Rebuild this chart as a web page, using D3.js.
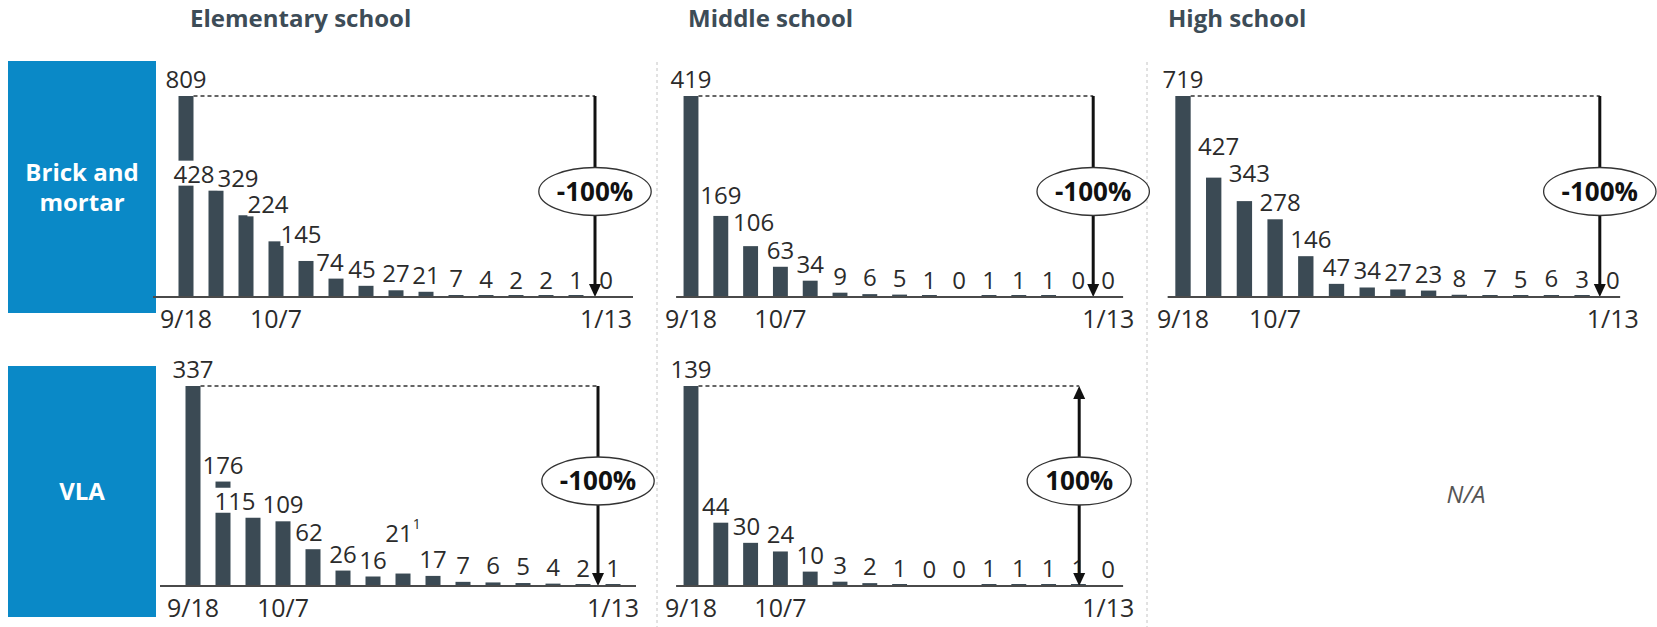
<!DOCTYPE html>
<html>
<head>
<meta charset="utf-8">
<script src="https://cdn.jsdelivr.net/npm/d3@7"></script>
<style>
body { margin: 0; background: #fff; }
text { font-family: "Open Sans", sans-serif; }
</style>
</head>
<body>
<script>
'use strict';

// weekly counts, 9/18 .. 1/13
var weeks = ["w1", "w2", "w3", "w4", "w5", "w6", "w7", "w8", "w9", "w10", "w11", "w12", "w13", "w14", "w15"];
var weekTicks = { w1: "9/18", w4: "10/7", w15: "1/13" };

var elementaryBrick = [809, 428, 329, 224, 145, 74, 45, 27, 21, 7, 4, 2, 2, 1, 0];
var middleBrick = [419, 169, 106, 63, 34, 9, 6, 5, 1, 0, 1, 1, 1, 0, 0];
var highBrick = [719, 427, 343, 278, 146, 47, 34, 27, 23, 8, 7, 5, 6, 3, 0];
var elementaryVla = [337, 176, 115, 109, 62, 26, 16, 21, 17, 7, 6, 5, 4, 2, 1];
var middleVla = [139, 44, 30, 24, 10, 3, 2, 1, 0, 0, 1, 1, 1, 1, 0];

var schoolLevels = ["Elementary school", "Middle school", "High school"];
var modes = [["Brick and", "mortar"], ["VLA"]];
var changes = ["-100%", "-100%", "-100%", "-100%", "100%"];
var elementaryVlaNotes = { 7: "1" };

var width = 1657;
var height = 627;

var barColor = "#3b4a54";
var inkColor = "#2b2b2b";

var svg = d3.select("body").append("svg")
    .attr("width", width)
    .attr("height", height);

// layout of each small chart: first bar centre, bar step, plot top/bottom,
// arrow shift from last bar, baseline lead/tail, label nudges
var panels = [
    { values: elementaryBrick, change: changes[0], c1: 186, step: 30, top: 96, bottom: 297,
      arrowShift: -11, lead: 18, tail: 12,
      nudge: { 1: [-22, 0], 2: [-8, -20], 3: [-8, -20], 4: [-5, -10], 5: [-6, 0], 6: [-4, 0] } },
    { values: middleBrick, change: changes[1], c1: 691, step: 29.8, top: 96, bottom: 297,
      arrowShift: -15, lead: 0, tail: 0,
      nudge: { 1: [0, -4], 2: [3, -7] } },
    { values: highBrick, change: changes[2], c1: 1183, step: 30.7, top: 96, bottom: 297,
      arrowShift: -13, lead: 0, tail: -8,
      nudge: { 1: [5, -15], 2: [5, -11], 3: [5, 0], 4: [5, 0] } },
    { values: elementaryVla, change: changes[3], c1: 193, step: 30, top: 386, bottom: 586,
      arrowShift: -15, lead: 18, tail: 8,
      nudge: { 2: [-18, 0], 4: [-4, 0], 7: [0, -24] }, notes: elementaryVlaNotes },
    { values: middleVla, change: changes[4], c1: 691, step: 29.8, top: 386, bottom: 586,
      arrowShift: -29, lead: 0, tail: 0,
      nudge: { 1: [-5, 0], 2: [-4, 0] }, both: true }
];

// column titles
var titleX = [190, 688, 1168];
svg.selectAll(".title")
    .data(schoolLevels)
    .enter().append("text")
    .attr("class", "title")
    .attr("x", (d, i) => titleX[i])
    .attr("y", 27)
    .attr("font-size", 24)
    .attr("font-weight", "bold")
    .attr("fill", "#3d4c57")
    .text(d => d);

// row headers
var rowBox = [[61, 313], [366, 617]];
modes.forEach(function (lines, i) {
    var g = svg.append("g");
    g.append("rect")
        .attr("x", 8)
        .attr("y", rowBox[i][0])
        .attr("width", 148)
        .attr("height", rowBox[i][1] - rowBox[i][0])
        .attr("fill", "#0a89c7");
    var cy = (rowBox[i][0] + rowBox[i][1]) / 2;
    lines.forEach(function (t, j) {
        g.append("text")
            .attr("x", 82)
            .attr("y", cy + (j - (lines.length - 1) / 2) * 30)
            .attr("dy", "0.36em")
            .attr("text-anchor", "middle")
            .attr("font-size", 24)
            .attr("font-weight", "bold")
            .attr("fill", "#fff")
            .text(t);
    });
});

// column separators
[657, 1147].forEach(function (sx) {
    svg.append("line")
        .attr("x1", sx).attr("x2", sx)
        .attr("y1", 62).attr("y2", height)
        .attr("stroke", "#c4c4c4")
        .attr("stroke-width", 1)
        .attr("stroke-dasharray", "3,3");
});

panels.forEach(function (p) {
    var g = svg.append("g");
    var step = p.step;

    var x = d3.scaleBand()
        .domain(weeks)
        .range([p.c1 - step / 2, p.c1 - step / 2 + step * weeks.length])
        .paddingInner(0.5)
        .paddingOuter(0.25);

    var y = d3.scaleLinear()
        .domain([0, d3.max(p.values)])
        .range([p.bottom, p.top]);

    var bw = x.bandwidth();

    g.selectAll(".bar")
        .data(p.values)
        .enter().append("rect")
        .attr("class", "bar")
        .attr("x", (d, i) => x(weeks[i]))
        .attr("width", bw)
        .attr("y", d => d > 0 ? Math.min(y(d), p.bottom - 2) : p.bottom)
        .attr("height", d => d > 0 ? Math.max(p.bottom - y(d), 2) : 0)
        .attr("fill", barColor);

    // value labels, white backing knocks out bars they sit on
    var labels = g.selectAll(".lbl")
        .data(p.values)
        .enter().append("g")
        .attr("class", "lbl");

    labels.each(function (d, i) {
        var n = p.nudge[i] || [0, 0];
        var lx = x(weeks[i]) + bw / 2 + n[0];
        var ly = Math.min(y(d), p.bottom) - 8 + n[1];
        var grp = d3.select(this);
        var bg = grp.append("rect").attr("fill", "#fff");
        var t = grp.append("text")
            .attr("x", lx)
            .attr("y", ly)
            .attr("text-anchor", "middle")
            .attr("font-size", 24)
            .attr("fill", inkColor)
            .text(d);
        if (p.notes && p.notes[i]) {
            t.append("tspan")
                .attr("font-size", 14)
                .attr("dy", "-0.9em")
                .text(p.notes[i]);
        }
        var b = t.node().getBBox();
        var pad = n[0] < -10 ? 2 : 0;
        bg.attr("x", b.x - pad).attr("y", ly - 22)
            .attr("width", b.width + 2 * pad).attr("height", 25);
    });

    var maxV = d3.max(p.values);
    var ax = x(weeks[weeks.length - 1]) + bw / 2 + p.arrowShift;

    // dashed reference at the peak
    g.append("line")
        .attr("x1", x(weeks[0]) + bw)
        .attr("x2", ax)
        .attr("y1", y(maxV)).attr("y2", y(maxV))
        .attr("stroke", "#333")
        .attr("stroke-width", 1.5)
        .attr("stroke-dasharray", "4,3");

    // change arrow
    var head = 13;
    g.append("line")
        .attr("x1", ax).attr("x2", ax)
        .attr("y1", p.both ? y(maxV) + head : y(maxV))
        .attr("y2", p.bottom - head)
        .attr("stroke", "#111")
        .attr("stroke-width", 3);
    g.append("path")
        .attr("d", "M" + (ax - 6) + "," + (p.bottom - head) + "L" + (ax + 6) + "," + (p.bottom - head) + "L" + ax + "," + p.bottom + "Z")
        .attr("fill", "#111");
    if (p.both) {
        g.append("path")
            .attr("d", "M" + (ax - 6) + "," + (y(maxV) + head) + "L" + (ax + 6) + "," + (y(maxV) + head) + "L" + ax + "," + y(maxV) + "Z")
            .attr("fill", "#111");
    }

    var cy = p.top + (p.bottom - p.top) * 0.475;
    var ell = g.append("ellipse")
        .attr("cx", ax).attr("cy", cy)
        .attr("ry", 24)
        .attr("fill", "#fff")
        .attr("stroke", "#333")
        .attr("stroke-width", 1.3);
    var ct = g.append("text")
        .attr("x", ax).attr("y", cy)
        .attr("dy", "0.36em")
        .attr("text-anchor", "middle")
        .attr("font-size", 26)
        .attr("font-weight", "bold")
        .attr("fill", "#111")
        .text(p.change);
    ell.attr("rx", ct.node().getComputedTextLength() / 2 + 18);

    // baseline + date ticks
    var axisG = g.append("g")
        .attr("transform", "translate(0," + p.bottom + ")");
    var xAxis = d3.axisBottom(x)
        .tickValues(["w1", "w4", "w15"])
        .tickFormat(d => weekTicks[d])
        .tickSize(0)
        .tickPadding(13);
    xAxis(axisG);
    var r = x.range();
    axisG.select(".domain").remove();
    axisG.insert("line", ":first-child")
        .attr("x1", r[0] - p.lead).attr("x2", r[1] + p.tail)
        .attr("stroke", "#4a4a4a").attr("stroke-width", 2);
    axisG.selectAll("text")
        .attr("font-size", 25)
        .attr("font-family", "Open Sans, sans-serif")
        .attr("fill", inkColor);
});

// no VLA high school
svg.append("text")
    .attr("x", 1466)
    .attr("y", 494)
    .attr("dy", "0.36em")
    .attr("text-anchor", "middle")
    .attr("font-size", 24)
    .attr("font-style", "italic")
    .attr("fill", "#555")
    .text("N/A");
</script>
</body>
</html>
